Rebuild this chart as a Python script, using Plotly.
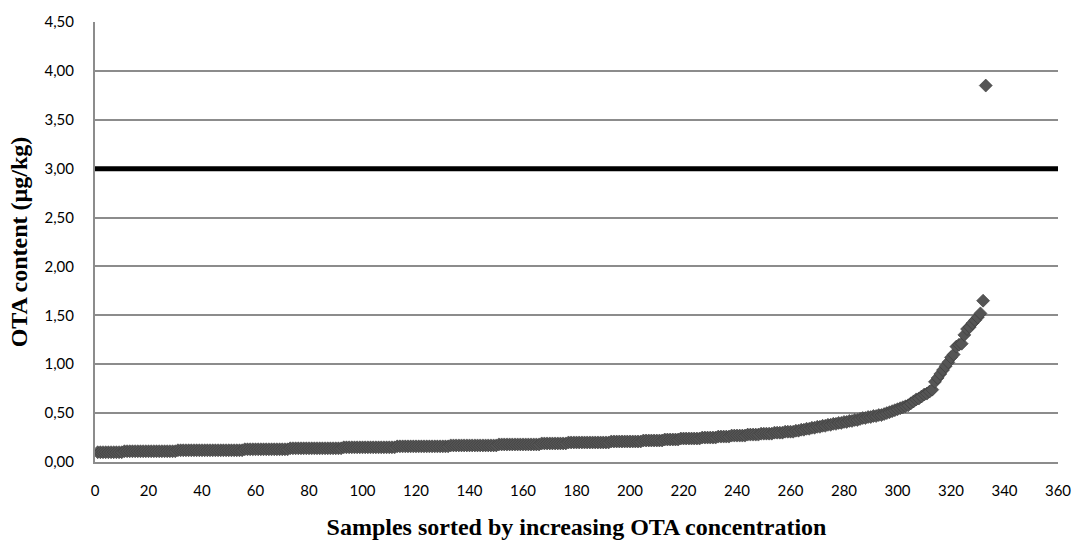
import plotly.graph_objects as go

# OTA content per sample, sorted ascending (µg/kg)
ota_values = [
    0.10, 0.10, 0.10, 0.10, 0.10, 0.10, 0.10, 0.10, 0.10, 0.10, 0.11, 0.11, 0.11, 0.11, 0.11, 0.11, 0.11, 0.11, 0.11, 0.11,
    0.11, 0.11, 0.11, 0.11, 0.11, 0.11, 0.11, 0.11, 0.11, 0.11, 0.12, 0.12, 0.12, 0.12, 0.12, 0.12, 0.12, 0.12, 0.12, 0.12,
    0.12, 0.12, 0.12, 0.12, 0.12, 0.12, 0.12, 0.12, 0.12, 0.12, 0.12, 0.12, 0.12, 0.12, 0.12, 0.13, 0.13, 0.13, 0.13, 0.13,
    0.13, 0.13, 0.13, 0.13, 0.13, 0.13, 0.13, 0.13, 0.13, 0.13, 0.13, 0.13, 0.14, 0.14, 0.14, 0.14, 0.14, 0.14, 0.14, 0.14,
    0.14, 0.14, 0.14, 0.14, 0.14, 0.14, 0.14, 0.14, 0.14, 0.14, 0.14, 0.14, 0.15, 0.15, 0.15, 0.15, 0.15, 0.15, 0.15, 0.15,
    0.15, 0.15, 0.15, 0.15, 0.15, 0.15, 0.15, 0.15, 0.15, 0.15, 0.15, 0.15, 0.16, 0.16, 0.16, 0.16, 0.16, 0.16, 0.16, 0.16,
    0.16, 0.16, 0.16, 0.16, 0.16, 0.16, 0.16, 0.16, 0.16, 0.16, 0.16, 0.16, 0.17, 0.17, 0.17, 0.17, 0.17, 0.17, 0.17, 0.17,
    0.17, 0.17, 0.17, 0.17, 0.17, 0.17, 0.17, 0.17, 0.17, 0.17, 0.18, 0.18, 0.18, 0.18, 0.18, 0.18, 0.18, 0.18, 0.18, 0.18,
    0.18, 0.18, 0.18, 0.18, 0.18, 0.18, 0.19, 0.19, 0.19, 0.19, 0.19, 0.19, 0.19, 0.19, 0.19, 0.19, 0.20, 0.20, 0.20, 0.20,
    0.20, 0.20, 0.20, 0.20, 0.20, 0.20, 0.20, 0.20, 0.20, 0.20, 0.20, 0.20, 0.21, 0.21, 0.21, 0.21, 0.21, 0.21, 0.21, 0.21,
    0.21, 0.21, 0.21, 0.21, 0.22, 0.22, 0.22, 0.22, 0.22, 0.22, 0.22, 0.22, 0.23, 0.23, 0.23, 0.23, 0.23, 0.23, 0.24, 0.24,
    0.24, 0.24, 0.24, 0.24, 0.24, 0.24, 0.25, 0.25, 0.25, 0.25, 0.25, 0.25, 0.26, 0.26, 0.26, 0.26, 0.26, 0.27, 0.27, 0.27,
    0.27, 0.27, 0.27, 0.28, 0.28, 0.28, 0.28, 0.28, 0.29, 0.29, 0.29, 0.29, 0.29, 0.30, 0.30, 0.30, 0.30, 0.31, 0.31, 0.31,
    0.31, 0.32, 0.32, 0.33, 0.33, 0.34, 0.34, 0.35, 0.35, 0.36, 0.36, 0.37, 0.37, 0.38, 0.38, 0.39, 0.39, 0.40, 0.40, 0.41,
    0.41, 0.42, 0.42, 0.43, 0.43, 0.44, 0.45, 0.45, 0.46, 0.46, 0.47, 0.47, 0.48, 0.48, 0.49, 0.50, 0.51, 0.52, 0.53, 0.54,
    0.55, 0.56, 0.57, 0.58, 0.60, 0.62, 0.64, 0.65, 0.67, 0.69, 0.70, 0.72, 0.74, 0.82, 0.86, 0.90, 0.94, 0.98, 1.02, 1.07,
    1.10, 1.18, 1.20, 1.21, 1.30, 1.36, 1.38, 1.42, 1.45, 1.48, 1.52, 1.65, 3.85,
]
sample_rank = list(range(1, len(ota_values) + 1))

# Legal limit line
limit_x = [0, 360]
limit_y = [3.0, 3.0]

x_ticks = list(range(0, 361, 20))
y_ticks = [0.0, 0.5, 1.0, 1.5, 2.0, 2.5, 3.0, 3.5, 4.0, 4.5]
y_tick_labels = ["0,00", "0,50", "1,00", "1,50", "2,00", "2,50", "3,00", "3,50", "4,00", "4,50"]

fig = go.Figure()

fig.add_trace(go.Scatter(
    x=limit_x, y=limit_y, mode="lines",
    line=dict(color="#000000", width=5),
    showlegend=False, hoverinfo="skip", cliponaxis=False,
))

fig.add_trace(go.Scatter(
    x=sample_rank, y=ota_values, mode="markers",
    marker=dict(symbol="diamond", size=10, color="#555555",
                line=dict(color="#3a3a3a", width=0.6)),
    showlegend=False,
))

tick_font = dict(family="Lato, 'Open Sans', sans-serif", size=15, color="#000000")
title_font = dict(family="'Liberation Serif', 'Times New Roman', serif", size=24, color="#000000")

fig.update_layout(
    width=1083, height=548,
    margin=dict(l=95, r=20, t=20, b=81),
    paper_bgcolor="#ffffff", plot_bgcolor="#ffffff",
    xaxis=dict(
        range=[0, 360], tickvals=x_ticks, ticktext=[str(v) for v in x_ticks],
        showgrid=False, zeroline=False,
        showline=True, linecolor="#8c8c8c", linewidth=2,
        ticks="", ticklabelstandoff=14, tickfont=tick_font,
        title=dict(text="<b>Samples sorted by increasing OTA concentration</b>",
                   font=title_font, standoff=20),
    ),
    yaxis=dict(
        range=[0, 4.5], tickvals=y_ticks, ticktext=y_tick_labels,
        showgrid=True, gridcolor="#8c8c8c", gridwidth=2, zeroline=False,
        showline=True, linecolor="#8c8c8c", linewidth=2,
        ticks="", ticklabelstandoff=16, tickfont=tick_font,
        title=dict(text="<b>OTA content (µg/kg)</b>", font=title_font, standoff=10),
    ),
)

fig.write_html("out.html")
